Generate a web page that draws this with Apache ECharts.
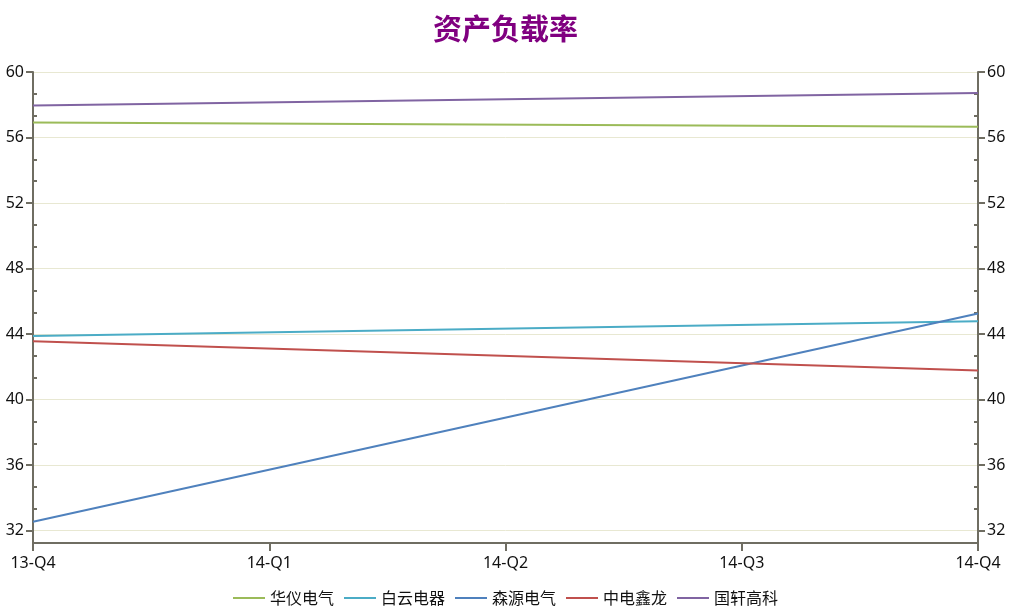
<!DOCTYPE html>
<html>
<head>
<meta charset="utf-8">
<script src="https://cdn.jsdelivr.net/npm/echarts@6/dist/echarts.min.js"></script>
<style>html,body{margin:0;padding:0;background:#fff;}#c{width:1019px;height:616px;}</style>
</head>
<body>
<div id="c"></div>
<script>
const categories = ['13-Q4', '14-Q1', '14-Q2', '14-Q3', '14-Q4'];
const seriesNames = ['华仪电气', '白云电器', '森源电气', '中电鑫龙', '国轩高科'];
const huayi = [56.91, null, null, null, 56.66];
const baiyun = [43.88, null, null, null, 44.78];
const senyuan = [32.55, null, null, null, 45.26];
const zhongdian = [43.56, null, null, null, 41.78];
const guoxuan = [57.95, null, null, null, 58.72];
const majorTicks = [32, 36, 40, 44, 48, 52, 56, 60];
const minorTicks = [33.333, 34.667, 37.333, 38.667, 41.333, 42.667, 45.333, 46.667, 49.333, 50.667, 53.333, 54.667, 57.333, 58.667];
const colors = ['#9bbb59', '#4bacc6', '#4f81bd', '#c0504d', '#8064a2'];
const values = [huayi, baiyun, senyuan, zhongdian, guoxuan];

const yMin = 31.25, yMax = 60;
const axisColor = '#6f6d62';
const font = '"Noto Sans", "Noto Sans CJK SC", sans-serif';

function yAxisDef(pos, major) {
  return {
    type: 'value', position: pos, min: yMin, max: yMax,
    axisLine: { show: major, lineStyle: { color: axisColor, width: 2 } },
    axisTick: major
      ? { show: true, inside: false, length: 7, customValues: majorTicks, lineStyle: { color: axisColor, width: 2 } }
      : { show: true, inside: true, length: 4, customValues: minorTicks, lineStyle: { color: axisColor, width: 2 } },
    axisLabel: major
      ? { show: true, customValues: majorTicks, margin: 9, color: '#111', fontSize: 16, fontFamily: font }
      : { show: false },
    splitLine: { show: major && pos === 'left', lineStyle: { color: '#e8e8d2', width: 1 } }
  };
}

const chart = echarts.init(document.getElementById('c'), null, { renderer: 'canvas' });
chart.setOption({
  animation: false,
  backgroundColor: '#fff',
  title: {
    text: '资产负载率', left: 428, top: 9,
    textStyle: { color: '#800080', fontSize: 29, fontWeight: 'bold', fontFamily: '"Noto Sans CJK SC", sans-serif' }
  },
  legend: {
    bottom: 5, left: 228, itemWidth: 32, itemHeight: 2, itemGap: 10, icon: 'rect',
    textStyle: { fontSize: 16, color: '#111', fontFamily: '"Noto Sans CJK SC", sans-serif' },
    data: seriesNames
  },
  grid: { left: 33, right: 41, top: 72, bottom: 73, containLabel: false },
  xAxis: {
    type: 'category', data: categories, boundaryGap: false,
    axisLine: { lineStyle: { color: axisColor, width: 2 } },
    axisTick: { show: true, length: 8, lineStyle: { color: axisColor, width: 2 } },
    axisLabel: { color: '#111', fontSize: 16, margin: 12, fontFamily: font },
    splitLine: { show: false }
  },
  yAxis: [yAxisDef('left', true), yAxisDef('right', true), yAxisDef('left', false), yAxisDef('right', false)],
  series: seriesNames.map((n, i) => ({
    name: n, type: 'line', yAxisIndex: 0, data: values[i], connectNulls: true,
    showSymbol: false, symbol: 'none', color: colors[i],
    lineStyle: { color: colors[i], width: 2 }
  }))
});
</script>
</body>
</html>
